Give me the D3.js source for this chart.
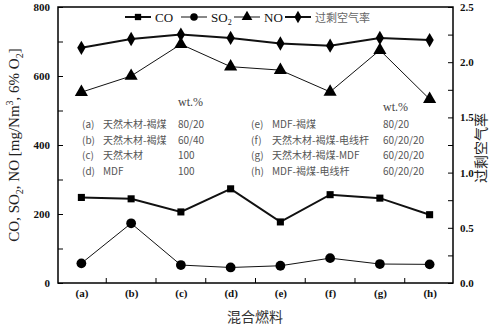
<!DOCTYPE html>
<html>
<head>
<meta charset="utf-8">
<script src="https://cdn.jsdelivr.net/npm/d3@7"></script>
<style>
body{margin:0;background:#fff;}
svg text{font-family:"Liberation Serif","Times New Roman",serif;}
.cjk{font-family:"Noto Sans CJK SC",sans-serif;}
</style>
</head>
<body>
<svg id="chart" width="500" height="326"></svg>
<script>
// data
var categories = ["(a)","(b)","(c)","(d)","(e)","(f)","(g)","(h)"];
var coValues  = [248, 244, 206, 273, 177, 256, 246, 198];
var so2Values = [57, 173, 52, 45, 50, 72, 55, 54];
var noValues  = [553, 600, 692, 627, 617, 554, 675, 533];
var airValues = [2.13, 2.21, 2.25, 2.22, 2.17, 2.15, 2.22, 2.20];
var leftTicks = [0, 200, 400, 600, 800];
var rightTicks = [0.0, 0.5, 1.0, 1.5, 2.0, 2.5];

var fuelLeft = [["(a)","天然木材-褐煤","80/20"],["(b)","天然木材-褐煤","60/40"],["(c)","天然木材","100"],["(d)","MDF","100"]];
var fuelRight = [["(e)","MDF-褐煤","80/20"],["(f)","天然木材-褐煤-电线杆","60/20/20"],["(g)","天然木材-褐煤-MDF","60/20/20"],["(h)","MDF-褐煤-电线杆","60/20/20"]];

var svg = d3.select("#chart");
var L = 58, R = 453, T = 7, B = 283;

var x = d3.scalePoint().domain(categories).range([L, R]).padding(0.47);
var y = d3.scaleLinear().domain([0, 800]).range([B, T]);
var y2 = d3.scaleLinear().domain([0, 2.5]).range([B, T]);

/// axes (ticks point inward)
var gl = svg.append("g").attr("transform","translate("+L+",0)")
  .call(d3.axisLeft(y).tickValues(d3.range(0, 801, 100)).tickSize(-5).tickFormat(function(d){return leftTicks.indexOf(d)>=0 ? d : "";}));
var gr = svg.append("g").attr("transform","translate("+R+",0)")
  .call(d3.axisRight(y2).tickValues(d3.range(0, 2.51, 0.25)).tickSize(-5).tickFormat(function(d){return rightTicks.some(function(t){return Math.abs(t-d)<1e-6;}) ? d3.format(".1f")(d) : "";}));
var mids = categories.slice(1).map(function(c, i){return (x(categories[i]) + x(c))/2;});
var gb = svg.append("g").attr("transform","translate(0,"+B+")")
  .call(d3.axisBottom(x).tickSize(0).tickPadding(6));
gb.selectAll(".tick line").remove();
gb.selectAll(".tick.mid").data(mids).enter().append("line")
  .attr("x1", function(d){return d;}).attr("x2", function(d){return d;})
  .attr("y1", 0).attr("y2", -5).attr("stroke","#000");
svg.selectAll(".domain").remove();
svg.append("rect").attr("x",L).attr("y",T).attr("width",R-L).attr("height",B-T)
  .attr("fill","none").attr("stroke","#000").attr("stroke-width",1.5);

svg.selectAll(".tick text").attr("font-size",11).attr("font-weight","bold")
  .attr("font-family","Liberation Serif").attr("fill","#111");
gl.selectAll(".tick text").attr("x",-8);
gr.selectAll(".tick text").attr("x",7);

/// axis titles
var lt = svg.append("text").attr("transform","translate(19,145) rotate(-90)")
  .attr("text-anchor","middle").attr("font-size",15).attr("fill","#222");
lt.append("tspan").text("CO, SO");
lt.append("tspan").attr("font-size",10).attr("dy",4).text("2");
lt.append("tspan").attr("dy",-4).text(", NO [mg/Nm");
lt.append("tspan").attr("font-size",10).attr("dy",-6).text("3");
lt.append("tspan").attr("dy",6).text(", 6% O");
lt.append("tspan").attr("font-size",10).attr("dy",4).text("2");
lt.append("tspan").attr("dy",-4).text("]");

svg.append("text").attr("class","cjk").attr("transform","translate(486,148) rotate(-90)")
  .attr("text-anchor","middle").attr("font-size",14).attr("fill","#222").text("过剩空气率");
svg.append("text").attr("class","cjk").attr("x",255).attr("y",322)
  .attr("text-anchor","middle").attr("font-size",14).attr("fill","#333").text("混合燃料");

/// series
var series = [
  {name:"CO", vals:coValues, sc:y, width:2, shape:d3.symbolSquare, size:50},
  {name:"SO2", vals:so2Values, sc:y, width:1, shape:d3.symbolCircle, size:75},
  {name:"NO", vals:noValues, sc:y, width:1, shape:d3.symbolTriangle, size:75},
  {name:"air", vals:airValues, sc:y2, width:2, shape:d3.symbolDiamond, size:60}
];
series.forEach(function(s){
  var line = d3.line().x(function(d, i){return x(categories[i]);}).y(function(d){return s.sc(d);});
  svg.append("path").datum(s.vals).attr("d", line).attr("fill","none")
    .attr("stroke","#111").attr("stroke-width", s.width);
  svg.selectAll(null).data(s.vals).enter().append("path")
    .attr("d", d3.symbol().type(s.shape).size(s.size))
    .attr("transform", function(d, i){return "translate("+x(categories[i])+","+s.sc(d)+")";})
    .attr("fill","#000");
});

/// legend
var legend = [
  {x:125, label:"CO", shape:d3.symbolSquare, size:40, w:2},
  {x:181, label:"SO", sub:"2", shape:d3.symbolCircle, size:45, w:1},
  {x:234, label:"NO", shape:d3.symbolTriangle, size:50, w:1},
  {x:285, label:"过剩空气率", shape:d3.symbolDiamond, size:45, w:2, cjk:true}
];
legend.forEach(function(l){
  var g = svg.append("g").attr("transform","translate("+l.x+",17)");
  g.append("line").attr("x1",0).attr("x2",26).attr("stroke","#111").attr("stroke-width",l.w);
  g.append("path").attr("d", d3.symbol().type(l.shape).size(l.size)).attr("transform","translate(13,0)");
  var t = g.append("text").attr("x",30).attr("y",4.5).attr("font-size",l.cjk?11:13).attr("fill", l.cjk?"#666":"#111");
  if(l.cjk) t.attr("class","cjk");
  t.append("tspan").text(l.label);
  if(l.sub) t.append("tspan").attr("font-size",8).attr("dy",3).text(l.sub);
});

/// fuel composition table
svg.append("text").attr("x",178).attr("y",106).attr("font-size",12).attr("fill","#444").text("wt.%");
svg.append("text").attr("x",383).attr("y",111).attr("font-size",12).attr("fill","#444").text("wt.%");
function fuelRows(rows, cols){
  rows.forEach(function(r, i){
    r.forEach(function(txt, j){
      svg.append("text").attr("class","cjk").attr("x",cols[j]).attr("y",128 + i*15.5)
        .attr("font-size",10).attr("fill","#555").text(txt);
    });
  });
}
fuelRows(fuelLeft, [82, 103, 178]);
fuelRows(fuelRight, [251, 272, 383]);
</script>
</body>
</html>
